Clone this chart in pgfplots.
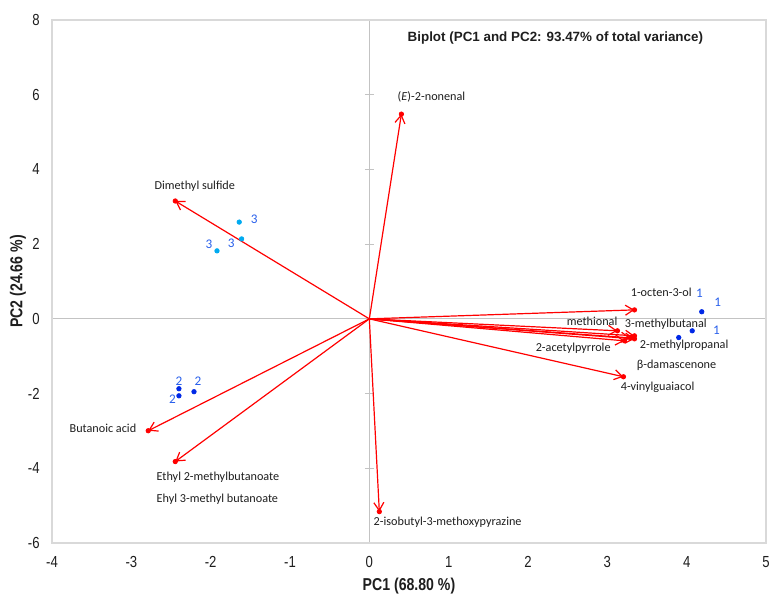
\documentclass[border=0pt]{standalone}
\usepackage{fontspec}
\setmainfont{Carlito}
\newfontfamily\titlefont{Liberation Sans}
\newfontfamily\narrowfont[FakeStretch=0.82]{Liberation Sans}
\usepackage{pgfplots}
\usepackage{pgfplotstable}
\pgfplotsset{compat=1.18}
\usetikzlibrary{arrows.meta}
\definecolor{framegray}{RGB}{217,217,217}
\definecolor{zerogray}{RGB}{195,195,195}
\definecolor{darkpt}{RGB}{0,40,230}
\definecolor{lightpt}{RGB}{0,170,240}
\definecolor{numblue}{RGB}{40,95,235}
\definecolor{txt}{RGB}{30,30,30}

% loadings: arrows from origin
\pgfplotstableread{
x y u v
0 0 0.404 5.48
0 0 -2.446 3.155
0 0 -2.787 -2.995
0 0 -2.446 -3.82
0 0 0.126 -5.16
0 0 3.342 0.24
0 0 3.127 -0.32
0 0 3.342 -0.455
0 0 3.342 -0.535
0 0 3.216 -0.588
0 0 3.29 -0.51
0 0 3.203 -1.55
}\loadings

\pgfplotstableread{
x y
4.19 0.19
4.07 -0.32
3.90 -0.50
-2.40 -1.87
-2.40 -2.06
-2.21 -1.95
}\darkscores

\pgfplotstableread{
x y
-1.64 2.59
-1.61 2.14
-1.92 1.82
}\lightscores

\begin{document}
\begin{tikzpicture}
% zero axes with cross ticks on the vertical one
\begin{axis}[
  scale only axis, width=357pt, height=261.5pt,
  xmin=-4, xmax=5, ymin=-6, ymax=8,
  axis lines*=middle,
  axis line style={zerogray, line width=0.6pt},
  xtick=\empty, ytick={-6,-4,...,8},
  xticklabels={}, yticklabels={},
  major tick length=4.5pt, tick align=center,
  tick style={zerogray, line width=0.6pt},
]
\addplot[draw=none] coordinates {(0,0)};
\end{axis}
\begin{axis}[
  scale only axis, width=357pt, height=261.5pt,
  xmin=-4, xmax=5, ymin=-6, ymax=8,
  clip=false,
  axis line style={framegray, line width=0.7pt},
  xtick={-4,...,5}, ytick={-6,-4,...,8},
  major tick length=0pt,
  /pgf/number format/assume math mode=true,
  ticklabel style={font=\narrowfont\fontsize{8}{9}\selectfont, text=txt},
  xticklabel style={anchor=center, yshift=-9.5pt},
  yticklabel style={anchor=east, inner sep=0pt, xshift=-6pt},
  xlabel={\bfseries PC1 (68.80 \%)},
  ylabel={\bfseries PC2 (24.66 \%)},
  xlabel style={font=\narrowfont\fontsize{8.6}{10}\selectfont, text=txt, at={(axis description cs:0.5,-0.0822)}, anchor=center},
  ylabel style={font=\narrowfont\fontsize{8.6}{10}\selectfont, text=txt, at={(axis description cs:-0.0476,0.5)}, anchor=center, rotate=0},
  every node/.append style={text=txt},
]
\addplot[red, line width=0.6pt,
  quiver={u=\thisrow{u}, v=\thisrow{v},
  every arrow/.append style={-{Straight Barb[length=4pt,width=5pt]}}}]
  table[x=x, y=y] {\loadings};
\addplot[only marks, mark=*, mark size=1.1pt, red] table[x=u, y=v] {\loadings};
\addplot[only marks, mark=*, mark size=1.1pt, darkpt] table[x=x, y=y] {\darkscores};
\addplot[only marks, mark=*, mark size=1.1pt, lightpt] table[x=x, y=y] {\lightscores};

\begin{scope}[every node/.style={font=\fontsize{6.1}{7}\selectfont, text=txt, inner sep=0pt, anchor=west}]
\node at (axis cs:0.353,5.94) {(\textit{E})-2-nonenal};
\node at (axis cs:-2.711,3.56) {Dimethyl sulfide};
\node at (axis cs:3.291,0.722) {1-octen-3-ol};
\node at (axis cs:2.484,-0.053) {methional};
\node at (axis cs:3.216,-0.134) {3-methylbutanal};
\node at (axis cs:2.093,-0.775) {2-acetylpyrrole};
\node at (axis cs:3.405,-0.695) {2-methylpropanal};
\node at (axis cs:3.367,-1.257) {β-damascenone};
\node at (axis cs:3.165,-1.845) {4-vinylguaiacol};
\node at (axis cs:-3.783,-2.94) {Butanoic acid};
\node at (axis cs:-2.686,-4.25) {Ethyl 2-methylbutanoate};
\node at (axis cs:-2.686,-4.84) {Ehyl 3-methyl butanoate};
\node at (axis cs:0.05,-5.45) {2-isobutyl-3-methoxypyrazine};
\end{scope}

\begin{scope}[every node/.style={font=\fontsize{6.6}{7}\selectfont, text=numblue, inner sep=0pt, anchor=center}]
\node at (axis cs:4.16,0.695) {1};
\node at (axis cs:4.39,0.455) {1};
\node at (axis cs:4.376,-0.294) {1};
\node at (axis cs:-1.45,2.67) {3};
\node at (axis cs:-1.74,2.03) {3};
\node at (axis cs:-2.02,2.0) {3};
\node at (axis cs:-2.40,-1.66) {2};
\node at (axis cs:-2.16,-1.66) {2};
\node at (axis cs:-2.48,-2.14) {2};
\end{scope}

\node[font=\titlefont\bfseries\fontsize{6.7}{8}\selectfont, text=txt, anchor=center] at (axis cs:2.345,7.51) {Biplot (PC1 and PC2: 93.47\% of total variance)};
\end{axis}
\pgfresetboundingbox
\path[use as bounding box] ([shift={(-26pt,-26.5pt)}]current axis.south west) rectangle ([shift={(2pt,10pt)}]current axis.north east);
\end{tikzpicture}
\end{document}
